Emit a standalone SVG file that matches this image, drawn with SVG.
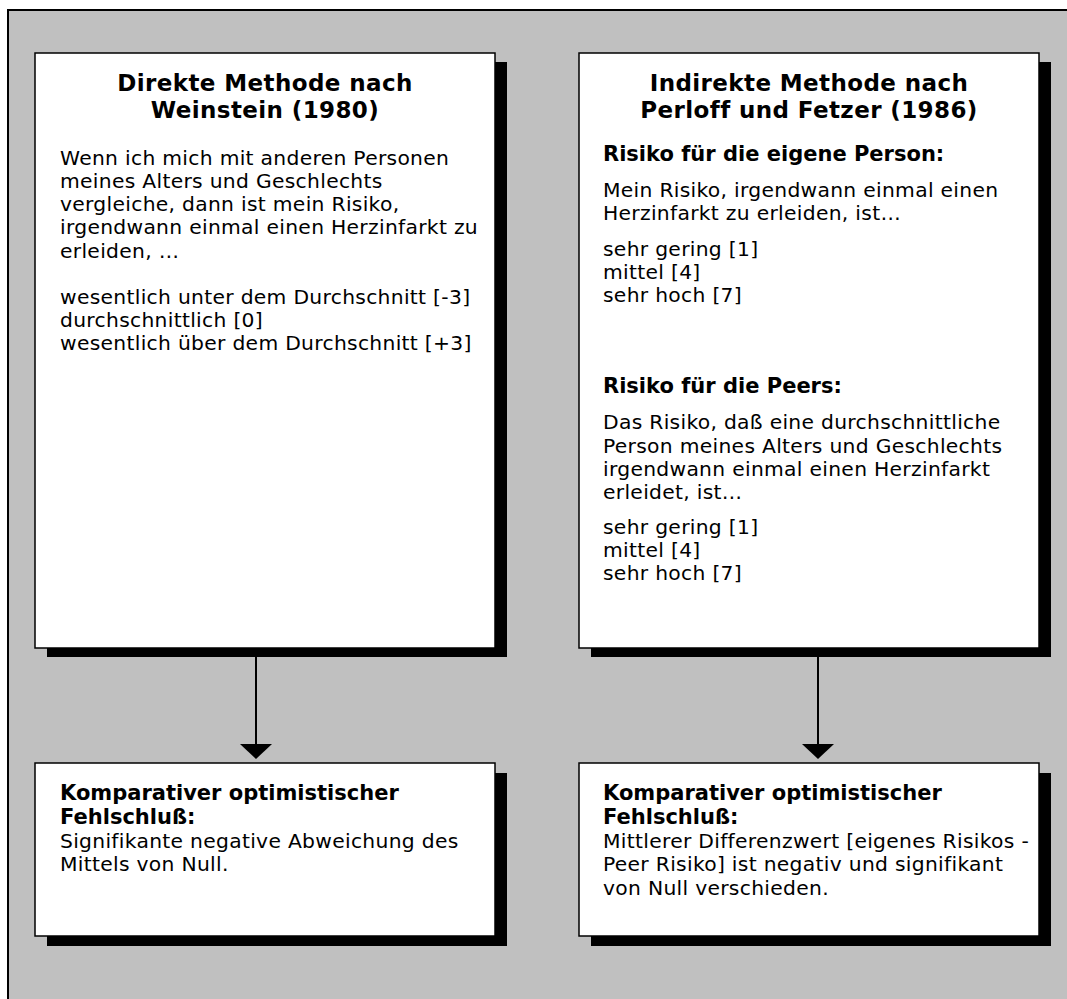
<svg xmlns="http://www.w3.org/2000/svg" width="1067" height="999" viewBox="0 0 1067 999">
<style>
.frame{fill:#c0c0c0;stroke:#000;stroke-width:2}
.box{fill:#fff;stroke:#000;stroke-width:1.5}
.shadow{fill:#000}
text{font-family:"DejaVu Sans","Liberation Sans",sans-serif;fill:#000}
.t{font-size:23px;font-weight:bold;text-anchor:middle;letter-spacing:0.4px}
.h{font-size:21px;font-weight:bold}
.b{font-size:20.3px;letter-spacing:0.3px}
.conn line{stroke:#000;stroke-width:2}
.conn polygon{fill:#000}
</style>
<rect x="0" y="0" width="1067" height="999" fill="#fff"/>
<rect class="frame" x="8" y="10" width="1100" height="1100"/>
<g id="node-direkt">
<rect class="shadow" x="47" y="62" width="460" height="595"/>
<rect class="box" x="35" y="53" width="460" height="595"/>
<text class="t" x="265" y="91">Direkte Methode nach</text>
<text class="t" x="265" y="118">Weinstein (1980)</text>
<text class="b" x="60" y="165">Wenn ich mich mit anderen Personen</text>
<text class="b" x="60" y="188">meines Alters und Geschlechts</text>
<text class="b" x="60" y="211">vergleiche, dann ist mein Risiko,</text>
<text class="b" x="60" y="234">irgendwann einmal einen Herzinfarkt zu</text>
<text class="b" x="60" y="258">erleiden, …</text>
<text class="b" x="60" y="304">wesentlich unter dem Durchschnitt [-3]</text>
<text class="b" x="60" y="327">durchschnittlich [0]</text>
<text class="b" x="60" y="350">wesentlich über dem Durchschnitt [+3]</text>
</g>
<g id="node-indirekt">
<rect class="shadow" x="591" y="62" width="460" height="595"/>
<rect class="box" x="579" y="53" width="460" height="595"/>
<text class="t" x="809" y="91">Indirekte Methode nach</text>
<text class="t" x="809" y="118">Perloff und Fetzer (1986)</text>
<text class="h" x="603" y="161">Risiko für die eigene Person:</text>
<text class="b" x="603" y="197">Mein Risiko, irgendwann einmal einen</text>
<text class="b" x="603" y="220">Herzinfarkt zu erleiden, ist…</text>
<text class="b" x="603" y="256">sehr gering [1]</text>
<text class="b" x="603" y="279">mittel [4]</text>
<text class="b" x="603" y="302">sehr hoch [7]</text>
<text class="h" x="603" y="393">Risiko für die Peers:</text>
<text class="b" x="603" y="429">Das Risiko, daß eine durchschnittliche</text>
<text class="b" x="603" y="453">Person meines Alters und Geschlechts</text>
<text class="b" x="603" y="476">irgendwann einmal einen Herzinfarkt</text>
<text class="b" x="603" y="499">erleidet, ist…</text>
<text class="b" x="603" y="534">sehr gering [1]</text>
<text class="b" x="603" y="557">mittel [4]</text>
<text class="b" x="603" y="580">sehr hoch [7]</text>
</g>
<g id="node-fehlschluss-direkt">
<rect class="shadow" x="47" y="773" width="460" height="173"/>
<rect class="box" x="35" y="763" width="460" height="173"/>
<text class="h" x="60" y="800">Komparativer optimistischer</text>
<text class="h" x="60" y="824">Fehlschluß:</text>
<text class="b" x="60" y="848">Signifikante negative Abweichung des</text>
<text class="b" x="60" y="871">Mittels von Null.</text>
</g>
<g id="node-fehlschluss-indirekt">
<rect class="shadow" x="591" y="773" width="460" height="173"/>
<rect class="box" x="579" y="763" width="460" height="173"/>
<text class="h" x="603" y="800">Komparativer optimistischer</text>
<text class="h" x="603" y="824">Fehlschluß:</text>
<text class="b" x="603" y="848">Mittlerer Differenzwert [eigenes Risikos -</text>
<text class="b" x="603" y="871">Peer Risiko] ist negativ und signifikant</text>
<text class="b" x="603" y="895">von Null verschieden.</text>
</g>
<g id="connectors" class="conn">
<line x1="256" y1="657" x2="256" y2="746"/>
<polygon points="240,744 272,744 256,759"/>
<line x1="818" y1="657" x2="818" y2="746"/>
<polygon points="802,744 834,744 818,759"/>
</g>
</svg>
